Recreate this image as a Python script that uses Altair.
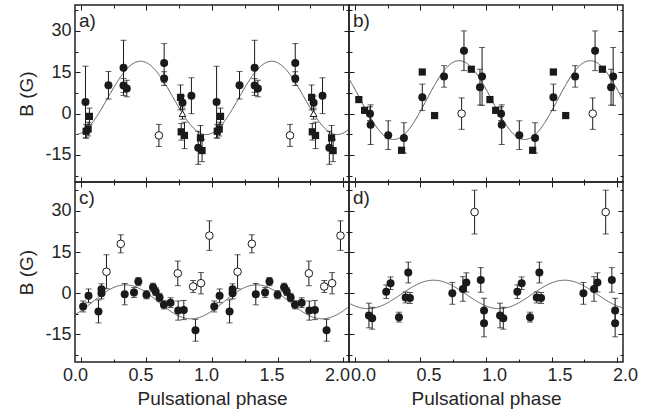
import altair as alt
import pandas as pd

# ---------------- axes / layout values ----------------
X_DOMAIN = [-0.045, 2.045]
Y_DOMAIN_TOP = [-24.8, 39.4]
Y_DOMAIN_BOTTOM = [-25.2, 40.6]
X_TICK_VALUES = [0.0, 0.25, 0.5, 0.75, 1.0, 1.25, 1.5, 1.75, 2.0]
Y_TICK_VALUES = [-22.5, -15, -7.5, 0, 7.5, 15, 22.5, 30, 37.5]
X_TITLE = "Pulsational phase"
Y_TITLE = "B (G)"
PANEL_LABELS = ["a)", "b)", "c)", "d)"]

# ---------------- panel a) ----------------
a_filled_phase = [0.035, 0.21, 0.325, 0.325, 0.35, 0.635, 0.635, 0.775, 0.843, 0.895]
a_filled_B = [4.2, 10.3, 16.6, 10.2, 9.1, 18.4, 12.7, 3.9, 6.5, -12.4]
a_filled_err = [13.0, 5.0, 10.0, 2.5, 3.0, 7.0, 2.5, 2.5, 6.5, 6.0]
a_square_phase = [0.04, 0.055, 0.065, 0.76, 0.765, 0.79, 0.912, 0.924]
a_square_B = [-6.4, -5.6, -1.0, 5.9, -6.6, -7.9, -8.8, -13.4]
a_square_err = [2.5, 2.5, 3.0, 4.5, 3.0, 4.8, 4.5, 4.0]
a_open_phase = [0.595]
a_open_B = [-7.9]
a_open_err = [4.0]
a_tri_phase = [0.775]
a_tri_B = [0.0]
a_tri_err = [2.0]
a_fit = [5.7, 13.3, 0.205]   # mean, amplitude, phase offset of fitted sinusoid

# ---------------- panel b) ----------------
b_filled_phase = [0.115, 0.12, 0.254, 0.374, 0.514, 0.68, 0.832, 0.97, 0.954]
b_filled_B = [0.0, -4.0, -7.8, -8.8, 5.9, 13.5, 22.8, 13.5, 9.6]
b_filled_err = [2.5, 7.2, 5.2, 5.5, 4.8, 3.9, 7.2, 10.5, 6.5]
b_square_phase = [0.03, 0.074, 0.356, 0.514, 0.608, 0.888]
b_square_B = [5.1, 1.2, -13.3, 15.1, -0.7, 16.1]
b_square_err = [0, 0, 0, 0, 0, 0]
b_open_phase = [0.814]
b_open_B = [0.0]
b_open_err = [5.7]
b_fit = [4.9, 14.3, 0.545]

# ---------------- panel c) ----------------
c_filled_phase = [0.017, 0.058, 0.134, 0.157, 0.157, 0.334, 0.405, 0.438, 0.50,
                  0.55, 0.57, 0.60, 0.633, 0.684, 0.742, 0.785, 0.874]
c_filled_B = [-4.9, -1.0, -6.7, -0.1, 1.4, -0.4, 0.2, 4.2, -0.6,
              2.1, 0.6, -1.6, -4.3, -3.5, -6.4, -6.2, -13.6]
c_filled_err = [2.0, 2.5, 4.2, 2.0, 2.0, 3.9, 1.8, 1.5, 1.5,
                1.5, 1.5, 1.5, 1.5, 1.8, 3.5, 3.5, 4.0]
c_open_phase = [0.195, 0.304, 0.739, 0.856, 0.916, 0.98]
c_open_B = [7.8, 18.0, 7.2, 2.4, 3.6, 21.0]
c_open_err = [6.2, 3.3, 4.5, 2.2, 3.9, 5.4]
c_fit = [-3.2, 6.2, 0.09]

# ---------------- panel d) ----------------
d_filled_phase = [0.107, 0.132, 0.239, 0.272, 0.336, 0.387, 0.407, 0.42,
                  0.743, 0.824, 0.85, 0.96, 0.985, 0.985]
d_filled_B = [-8.2, -9.2, 0.5, 3.6, -8.8, -1.6, 7.5, -1.8,
              -0.1, 1.5, 3.9, 4.8, -6.4, -11.0]
d_filled_err = [4.5, 4.0, 2.5, 2.3, 1.8, 2.0, 3.8, 2.0,
                4.0, 4.5, 3.5, 4.5, 4.5, 5.0]
d_open_phase = [0.913]
d_open_B = [29.6]
d_open_err = [8.0]
d_fit = [-0.5, 5.2, 0.35]

INK = "#1a1a1a"
TEXT = "#262626"
FONT = "Liberation Sans"
CYCLES = [0, 1]  # every observation is plotted over two pulsation cycles


def series(kind, phases, values, errs):
    out = []
    for cyc in CYCLES:
        for p, v, e in zip(phases, values, errs):
            out.append({"phase": p + cyc, "B": v, "err": e,
                        "lo": v - e, "hi": v + e, "kind": kind})
    return out


MAJOR_X = "abs(datum.value * 2 - round(datum.value * 2)) < 0.001"
MAJOR_Y = "datum.value % 15 === 0"


def x_axis(orient, labels, label_shift=0):
    kw = dict(orient=orient, values=X_TICK_VALUES, domain=False, grid=False,
              tickSize={"condition": {"test": MAJOR_X, "value": -5}, "value": -3},
              tickColor=INK, tickWidth=1, labelFlush=False, labelOverlap=False,
              labels=labels)
    if labels:
        kw.update(labelExpr=f"{MAJOR_X} ? format(datum.value, '.1f') : ''",
                  labelPadding=9, labelFontSize=18, labelOffset=label_shift,
                  title=X_TITLE, titleFontSize=19, titlePadding=3)
    else:
        kw.update(title=None)
    return alt.Axis(**kw)


def y_axis(orient, labels):
    kw = dict(orient=orient, values=Y_TICK_VALUES, domain=False, grid=False,
              tickSize={"condition": {"test": MAJOR_Y, "value": -5}, "value": -3},
              tickColor=INK, tickWidth=1, labelFlush=False, labelOverlap=False,
              labels=labels)
    if labels:
        kw.update(labelExpr=f"{MAJOR_Y} ? '' + datum.value : ''",
                  labelPadding=9, labelFontSize=18, title=Y_TITLE,
                  titleFontSize=19, titlePadding=8)
    else:
        kw.update(title=None)
    return alt.Axis(**kw)


def panel(label, filled, squares, opens, tris, fit, ydom, height,
          left_labels, bottom_labels, label_shift):
    xs = alt.Scale(domain=X_DOMAIN, nice=False, zero=False)
    ys = alt.Scale(domain=ydom, nice=False, zero=False)
    allrows = filled + squares + opens + tris
    df = pd.DataFrame(allrows)
    df_err = df[df["err"] > 0]

    mean, amp, phi0 = fit
    curve = alt.Chart(alt.sequence(start=X_DOMAIN[0], stop=X_DOMAIN[1] + 0.005,
                                   step=0.005, as_="phase")).transform_calculate(
        B=f"{mean} + {amp} * sin(2 * PI * (datum.phase - {phi0}))"
    ).mark_line(color="#5a5a5a", strokeWidth=1, clip=True).encode(
        x=alt.X("phase:Q", scale=xs, axis=x_axis("bottom", bottom_labels, label_shift)),
        y=alt.Y("B:Q", scale=ys, axis=y_axis("left", left_labels)),
    )

    bars = alt.Chart(df_err).mark_rule(color=INK, strokeWidth=1).encode(
        x=alt.X("phase:Q", scale=xs, axis=x_axis("top", False)),
        y=alt.Y("lo:Q", scale=ys, axis=y_axis("right", False)),
        y2="hi:Q",
    )

    caps = alt.Chart(df_err).transform_fold(["lo", "hi"], as_=["end", "val"]).mark_tick(
        orient="horizontal", size=6, thickness=1, color=INK
    ).encode(
        x=alt.X("phase:Q", scale=xs, axis=None),
        y=alt.Y("val:Q", scale=ys, axis=None),
    )

    layers = [curve, bars, caps]

    if filled:
        layers.append(alt.Chart(pd.DataFrame(filled)).mark_circle(
            size=64, color=INK, opacity=1).encode(
            x=alt.X("phase:Q", scale=xs, axis=None),
            y=alt.Y("B:Q", scale=ys, axis=None)))
    if squares:
        layers.append(alt.Chart(pd.DataFrame(squares)).mark_square(
            size=52, color=INK, opacity=1).encode(
            x=alt.X("phase:Q", scale=xs, axis=None),
            y=alt.Y("B:Q", scale=ys, axis=None)))
    if opens:
        layers.append(alt.Chart(pd.DataFrame(opens)).mark_point(
            shape="circle", size=58, filled=False, fill="white", fillOpacity=1,
            stroke=INK, strokeWidth=1, opacity=1).encode(
            x=alt.X("phase:Q", scale=xs, axis=None),
            y=alt.Y("B:Q", scale=ys, axis=None)))
    if tris:
        layers.append(alt.Chart(pd.DataFrame(tris)).mark_point(
            shape="triangle-up", size=45, filled=False, fill="white", fillOpacity=1,
            stroke=INK, strokeWidth=1, opacity=1).encode(
            x=alt.X("phase:Q", scale=xs, axis=None),
            y=alt.Y("B:Q", scale=ys, axis=None)))

    text = alt.Chart(pd.DataFrame({"label": [label]})).mark_text(
        align="left", baseline="alphabetic", fontSize=19, font=FONT, color=TEXT
    ).encode(x=alt.value(4), y=alt.value(22), text="label:N")
    layers.append(text)

    return alt.layer(*layers).resolve_axis(x="independent", y="independent").properties(
        width=274, height=height)


pa = panel(PANEL_LABELS[0],
           series("filled", a_filled_phase, a_filled_B, a_filled_err),
           series("square", a_square_phase, a_square_B, a_square_err),
           series("open", a_open_phase, a_open_B, a_open_err),
           series("triangle", a_tri_phase, a_tri_B, a_tri_err),
           a_fit, Y_DOMAIN_TOP, 177, True, False, 0)
pb = panel(PANEL_LABELS[1],
           series("filled", b_filled_phase, b_filled_B, b_filled_err),
           series("square", b_square_phase, b_square_B, b_square_err),
           series("open", b_open_phase, b_open_B, b_open_err),
           [],
           b_fit, Y_DOMAIN_TOP, 177, False, False, 0)
pc = panel(PANEL_LABELS[2],
           series("filled", c_filled_phase, c_filled_B, c_filled_err),
           [],
           series("open", c_open_phase, c_open_B, c_open_err),
           [],
           c_fit, Y_DOMAIN_BOTTOM, 180, True, True, -6)
pd_ = panel(PANEL_LABELS[3],
            series("filled", d_filled_phase, d_filled_B, d_filled_err),
            [],
            series("open", d_open_phase, d_open_B, d_open_err),
            [],
            d_fit, Y_DOMAIN_BOTTOM, 180, False, True, 8)

chart = alt.concat(pa, pb, pc, pd_, columns=2, spacing=0, bounds="flush",
                   align="each").properties(
    padding={"left": 17, "top": 0, "right": 5, "bottom": 5},
    background="white",
).configure_view(
    stroke="#222222", strokeWidth=1.5
).configure_axis(
    labelFont=FONT, titleFont=FONT, labelColor=TEXT, titleColor=TEXT,
    titleFontWeight="normal"
)

chart.save("out.html", embed_options={"renderer": "svg", "actions": False})
